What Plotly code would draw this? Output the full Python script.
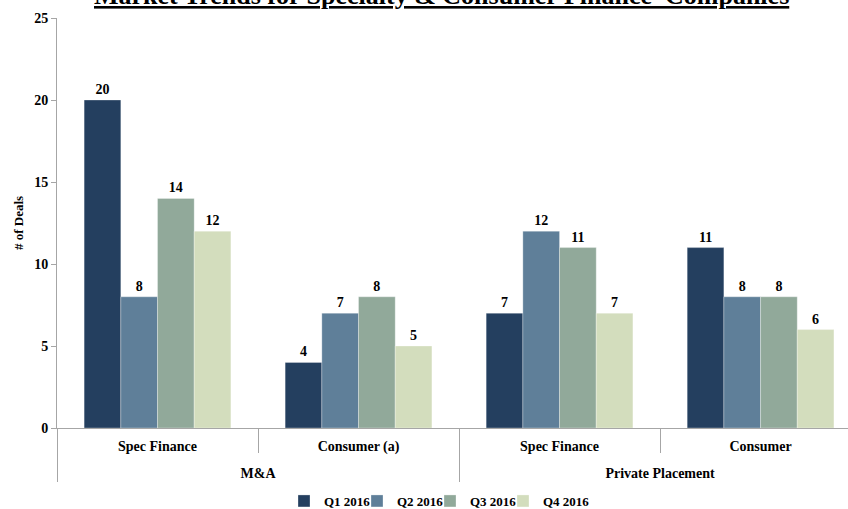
import plotly.graph_objects as go

groups = ["M&A", "M&A", "Private Placement", "Private Placement"]
categories = ["Spec Finance", "Consumer (a)", "Spec Finance", "Consumer"]
series_names = ["Q1 2016", "Q2 2016", "Q3 2016", "Q4 2016"]
q1 = [20, 4, 7, 11]
q2 = [8, 7, 12, 8]
q3 = [14, 8, 11, 8]
q4 = [12, 5, 7, 6]
values = [q1, q2, q3, q4]
colors = ["#243F5F", "#5F7F99", "#91A99A", "#D3DDBD"]
y_ticks = [0, 5, 10, 15, 20, 25]
title_text = "Market Trends for Specialty & Consumer Finance  Companies"

FONT = "Liberation Serif"
W, H = 848, 509

x_levels = [[f"<b>{g}</b>" for g in groups],
            [f"<b>{c}</b><br><span style='font-size:2px'>&nbsp;</span>" for c in categories]]

legend_ids = ["legend", "legend2", "legend3", "legend4"]
legend_sym_centers = [304, 377, 450, 523]

fig = go.Figure()
for name, vals, col, lid in zip(series_names, values, colors, legend_ids):
    fig.add_trace(go.Bar(
        name=f"<b>{name}</b>",
        x=x_levels,
        y=vals,
        legend=lid,
        marker=dict(color=col, line=dict(color="rgba(255,255,255,0.6)", width=0.5)),
        text=[f"<b>{v}</b>" for v in vals],
        textposition="outside",
        textfont=dict(family=FONT, size=14, color="black"),
        cliponaxis=False,
    ))

legend_layouts = {}
for lid, cx in zip(legend_ids, legend_sym_centers):
    legend_layouts[lid] = dict(
        orientation="h", xref="container", yref="container",
        x=(cx - 20) / W, xanchor="left",
        y=1 - 501 / H, yanchor="middle",
        font=dict(family=FONT, size=13, color="black"),
        itemwidth=30, bgcolor="rgba(0,0,0,0)",
    )

fig.update_layout(
    width=W, height=H,
    margin=dict(l=57, r=0, t=18, b=81, autoexpand=False),
    paper_bgcolor="white", plot_bgcolor="white",
    barmode="group", bargap=0.27, bargroupgap=0,
    font=dict(family=FONT, size=13, color="black"),
    showlegend=True,
    annotations=[dict(
        text=f"<b><u>{title_text}</u></b>",
        font=dict(family=FONT, size=26, color="black"),
        xref="paper", yref="paper", x=(441.5 - 57) / 791, y=1.0146,
        xanchor="center", yanchor="bottom", showarrow=False,
    )],
    **legend_layouts,
)
fig.update_xaxes(
    type="multicategory", automargin=False,
    range=[-0.5, 3.435],
    showline=True, linecolor="#A6A6A6", linewidth=1,
    ticks="outside", ticklen=24, tickcolor="#A6A6A6",
    ticklabelstandoff=5,
    showdividers=True, dividercolor="#A6A6A6", dividerwidth=1,
    tickfont=dict(family=FONT, size=14, color="black"),
    showgrid=False,
)
fig.update_yaxes(
    automargin=False,
    range=[0, 25], tickvals=y_ticks,
    ticktext=[f"<b>{t}</b>" for t in y_ticks],
    showline=True, linecolor="#A6A6A6", linewidth=1,
    ticks="outside", ticklen=5, tickcolor="#A6A6A6",
    showgrid=False, zeroline=False,
    tickfont=dict(family=FONT, size=14, color="black"),
    title=dict(text="<b># of Deals</b>", font=dict(family=FONT, size=13, color="black"), standoff=7),
)

fig.write_html("out.html", config={"displayModeBar": False},
               post_script="document.body.style.margin='0px';")
